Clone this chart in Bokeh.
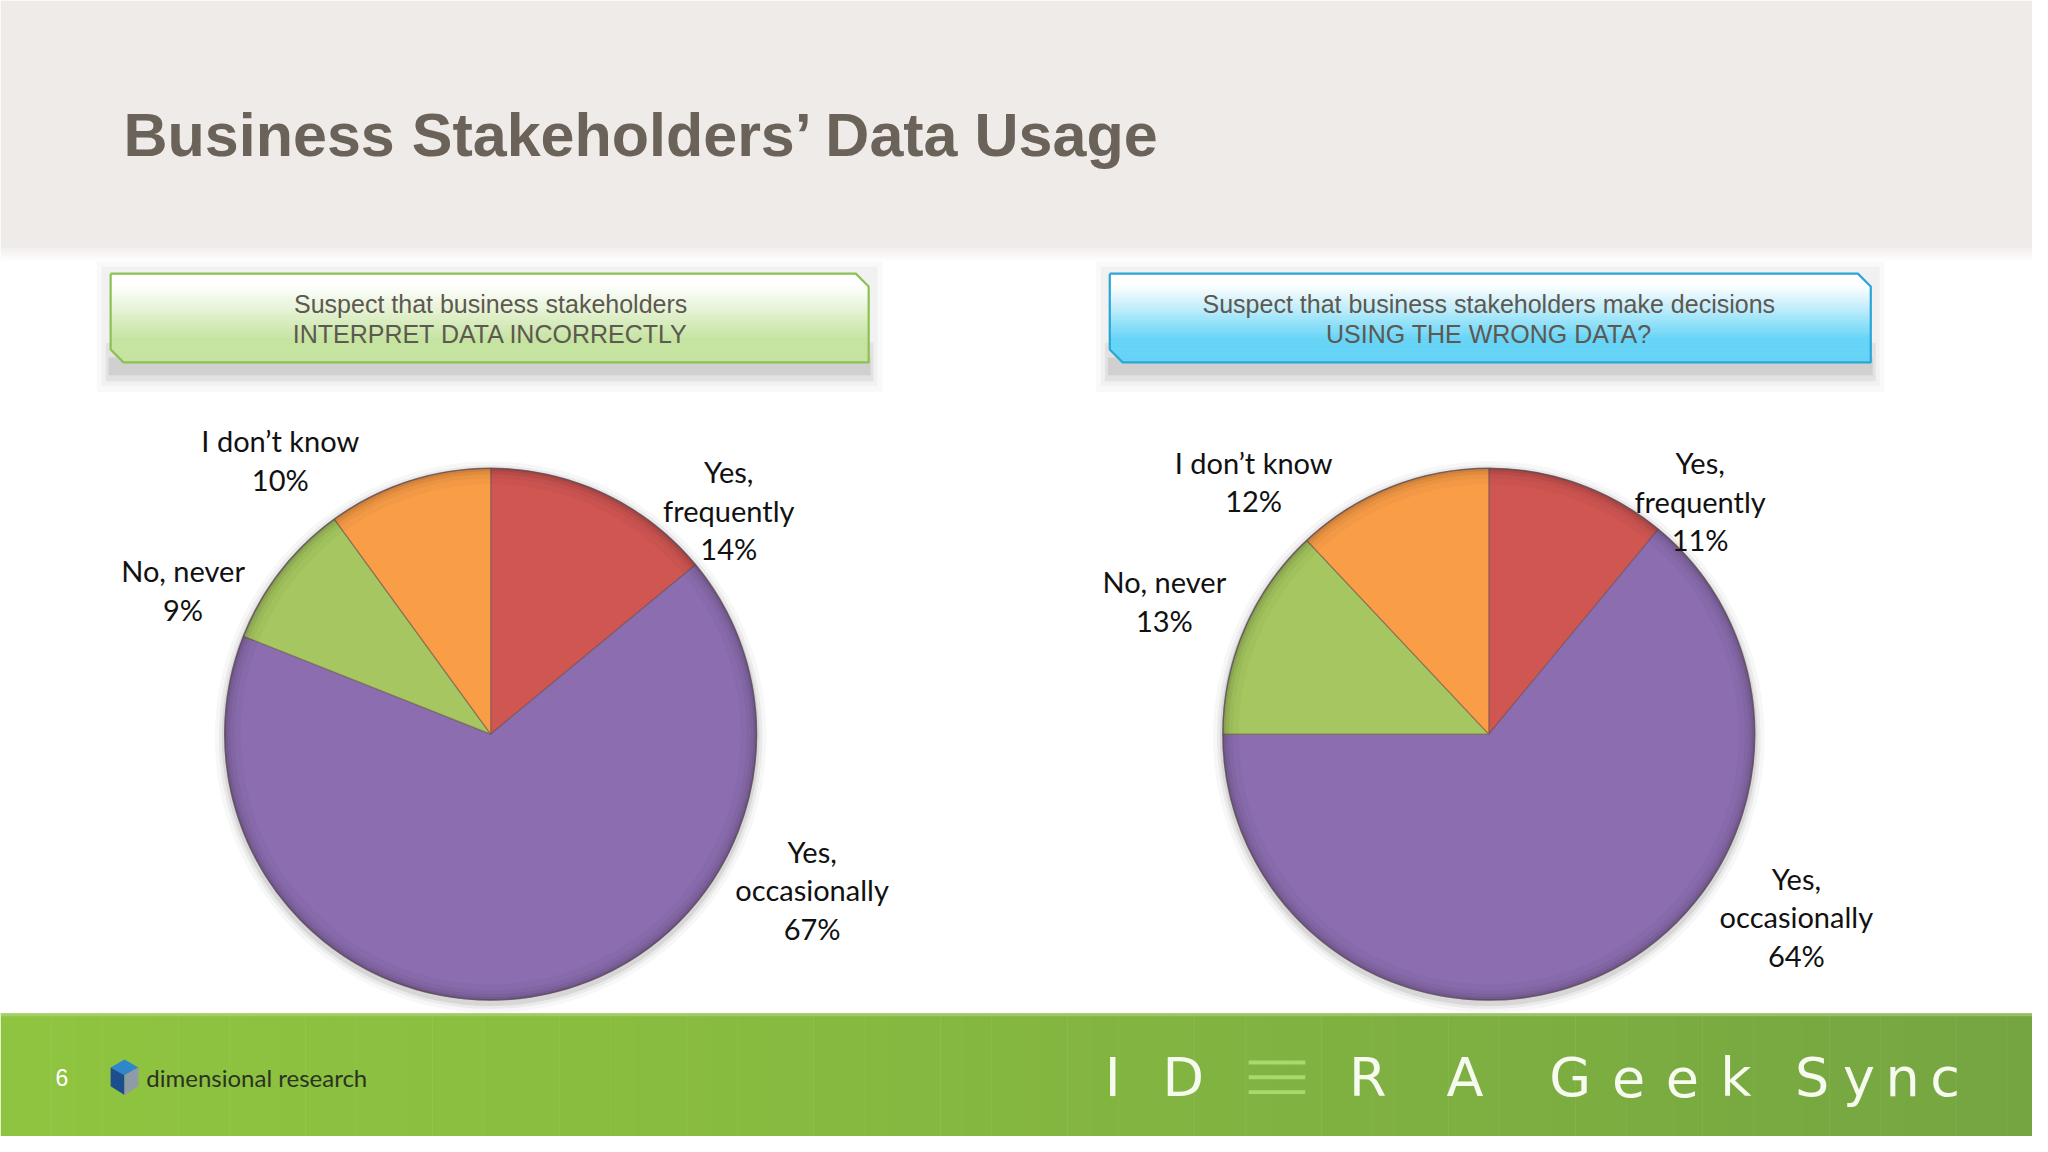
from bokeh.plotting import figure
from bokeh.models import Range1d
from bokeh.embed import file_html
from bokeh.resources import INLINE
from bokeh.core.properties import value
import numpy as np

# ---------------- data ----------------
title = "Business Stakeholders’ Data Usage"
categories = ["Yes,\nfrequently", "Yes,\noccasionally", "No, never", "I don’t know"]
left_values = [14, 67, 9, 10]
right_values = [11, 64, 13, 12]
left_heading = ["Suspect that business stakeholders", "INTERPRET DATA INCORRECTLY"]
right_heading = ["Suspect that business stakeholders make decisions", "USING THE WRONG DATA?"]
page_number = "6"
logo_text = "dimensional research"
brand_letters = ["I", "D", "R", "A", "G", "e", "e", "k", "S", "y", "n", "c"]

# ---------------- styles / layout ----------------
slice_colors = ["#cf5651", "#8b6db0", "#a5c660", "#f99d47"]
W, H = 2032, 1136


def Y(sy):
    return 1152 - sy


p = figure(width=W, height=H, x_range=Range1d(0, 2048), y_range=Range1d(0, 1152),
           output_backend="svg", toolbar_location=None, min_border=0,
           x_axis_type=None, y_axis_type=None)
p.grid.visible = False
p.outline_line_color = None
p.background_fill_color = "white"
p.border_fill_color = "white"

# header band
p.quad(left=[0], right=[2048], bottom=[Y(251)], top=[Y(0)], fill_color="#efebe8", line_color=None)
for i in range(8):
    t = i / 8
    c = tuple(int(a + (255 - a) * t) for a in (243, 240, 238))
    p.quad(left=[0], right=[2048], bottom=[Y(252 + i * 1.5 + 1.5)], top=[Y(251 + i * 1.5)],
           fill_color="#%02x%02x%02x" % c, line_color=None)

p.text(x=[124], y=[Y(136)], text=[title], text_font=value("Liberation Sans"),
       text_font_style="bold", text_font_size="61px", text_color="#6b6259",
       text_baseline="middle", text_align="left")


def mix(c1, c2, t):
    return "#%02x%02x%02x" % tuple(int(round(a + (b - a) * t)) for a, b in zip(c1, c2))


def draw_box(x0, x1, sy0, sy1, bottom_rgb, border, lines, cx):
    c = 13
    # shadow
    for dx, top, bot, al in [(14, sy0 - 12, sy1 + 30, 0.025), (9, sy0 - 7, sy1 + 24, 0.03),
                             (5, sy1 - 20, sy1 + 19, 0.06), (2, sy1 - 5, sy1 + 13, 0.08)]:
        p.quad(left=[x0 - dx], right=[x1 + dx], top=[Y(top)], bottom=[Y(bot)],
               fill_color="black", fill_alpha=al, line_color=None)

    def xl(y):
        return x0 if y <= sy1 - c else x0 + (y - (sy1 - c))

    def xr(y):
        return x1 if y >= sy0 + c else x1 - (sy0 + c - y)

    n = 45
    xs, ys, cols = [], [], []
    edges = np.linspace(sy0, sy1, n + 1)
    for i in range(n):
        a, b = edges[i], edges[i + 1]
        xs.append([xl(a), xr(a), xr(b), xl(b)])
        ys.append([Y(a), Y(a), Y(b), Y(b)])
        t = (a + b) / 2
        f = min(max(((t - sy0) / (sy1 - sy0) - 0.12) / 0.62, 0), 1)
        cols.append(mix((255, 255, 255), bottom_rgb, f ** 1.1))
    p.patches(xs=xs, ys=ys, fill_color=cols, line_color=cols, line_width=0.6)
    ox = [x0, x1 - c, x1, x1, x0 + c, x0, x0]
    oy = [sy0, sy0, sy0 + c, sy1, sy1, sy1 - c, sy0]
    p.line(x=ox, y=[Y(v) for v in oy], line_color=border, line_width=2.2)
    p.text(x=[cx, cx], y=[Y(308), Y(338)], text=lines, text_font=value("Liberation Sans"),
           text_font_size="25px", text_color="#5d5850", text_align="center", text_baseline="middle")


draw_box(111, 875, 277, 367, (197, 228, 160), "#8cc152", left_heading, 494)
draw_box(1118, 1885, 277, 367, (100, 212, 247), "#2aa6d6", right_heading, 1500)


def draw_pie(cx, cy_s, r, values, label_pos):
    cy = Y(cy_s)
    # drop shadow
    for k, al in [(10, 0.03), (6, 0.05), (3, 0.08)]:
        p.circle(x=[cx], y=[cy - 3], radius=r + k, fill_color="black", fill_alpha=al, line_color=None)
    frac = np.array(values, dtype=float) / sum(values)
    cum = np.concatenate([[0], np.cumsum(frac)])
    start = [np.deg2rad(90 - cum[i + 1] * 360) for i in range(len(values))]
    end = [np.deg2rad(90 - cum[i] * 360) for i in range(len(values))]
    p.wedge(x=cx, y=cy, radius=r, start_angle=start, end_angle=end, direction="anticlock",
            fill_color=slice_colors, line_color="#6a5050", line_alpha=0.55, line_width=1.2)
    # bevel rim
    for k, al in [(16, 0.025), (10, 0.035), (6, 0.05), (3, 0.07)]:
        p.annulus(x=[cx], y=[cy], inner_radius=r - k, outer_radius=r, fill_color="black",
                  fill_alpha=al, line_color=None)
    p.circle(x=[cx], y=[cy], radius=r, fill_color=None, line_color="#5a4a5a", line_alpha=0.6, line_width=1.5)
    labels = [f"{c}\n{v}%" for c, v in zip(categories, values)]
    p.text(x=[q[0] for q in label_pos], y=[Y(q[1]) for q in label_pos], text=labels,
           text_font=value("Lato"), text_font_size="29px", text_color="#111111",
           text_align="center", text_baseline="middle", text_line_height=1.1)


left_label_pos = [(734, 517), (818, 902), (184, 598), (282, 466)]
right_label_pos = [(1713, 508), (1810, 929), (1173, 609), (1263, 488)]
draw_pie(494, 744, 268, left_values, left_label_pos)
draw_pie(1500, 744, 268, right_values, right_label_pos)

# footer band
n = 80
edges = np.linspace(0, 2048, n + 1)
fcols = [mix((143, 196, 64), (117, 165, 65), ((edges[i] + edges[i + 1]) / 2 / 2048) ** 1.2) for i in range(n)]
p.quad(left=edges[:-1], right=edges[1:] + 0.5, bottom=Y(1152), top=Y(1027), fill_color=fcols, line_color=None)
p.quad(left=[0], right=[2048], bottom=[Y(1030)], top=[Y(1027)], fill_color="#b8d98a", fill_alpha=0.5, line_color=None)

p.text(x=[62], y=[Y(1092)], text=[page_number], text_font=value("Liberation Sans"),
       text_font_size="23px", text_color="white", text_align="center", text_baseline="middle")

# logo cube
p.patch(x=[125, 139, 125, 111], y=[Y(1074), Y(1082), Y(1090), Y(1082)], fill_color="#2f86c8", line_color=None)
p.patch(x=[111, 125, 125, 111], y=[Y(1082), Y(1090), Y(1110), Y(1101)], fill_color="#1c4e8f", line_color=None)
p.patch(x=[125, 139, 139, 125], y=[Y(1090), Y(1082), Y(1101), Y(1110)], fill_color="#8f9ba6", line_color=None)
p.text(x=[147], y=[Y(1092)], text=[logo_text], text_font=value("Lato"), text_font_size="24px",
       text_color="#2a3323", text_align="left", text_baseline="middle")

# brand
brand_x = [1121, 1192, 1378, 1476, 1582, 1641, 1695, 1749, 1826, 1873, 1917, 1960]
p.text(x=brand_x, y=[Y(1092)] * len(brand_x), text=brand_letters, text_font=value("DejaVu Sans"),
       text_font_size="54px", text_color="#f6faef", text_align="center", text_baseline="middle")
for sy in (1077, 1092, 1107):
    p.quad(left=[1258], right=[1315], top=[Y(sy - 2)], bottom=[Y(sy + 2)], fill_color="#a9d86c", line_color=None)

open("out.html", "w").write(file_html(p, INLINE))
